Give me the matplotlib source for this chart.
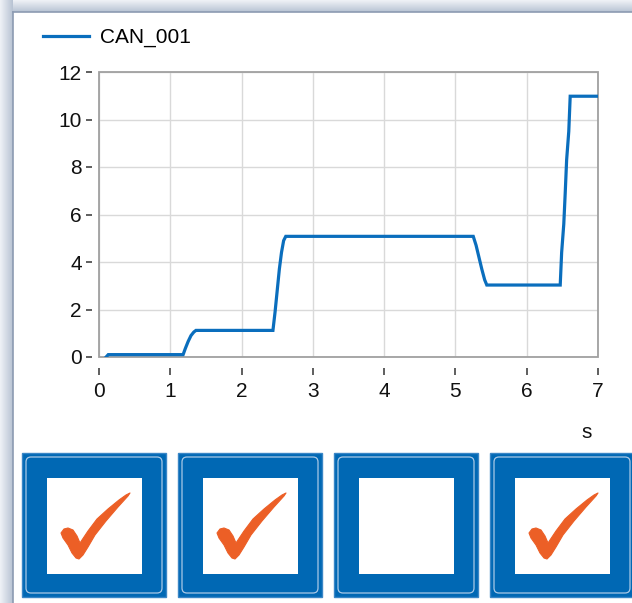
import numpy as np
import matplotlib
matplotlib.use("Agg")
import matplotlib.pyplot as plt
from matplotlib.patches import Rectangle, FancyBboxPatch, Polygon

plt.rcParams['font.family'] = ['Liberation Sans', 'DejaVu Sans']

# channel CAN_001 samples (time in s, value)
t = [0.10, 0.13, 1.18, 1.21, 1.25, 1.29, 1.33, 1.36, 2.44, 2.47, 2.50, 2.53, 2.56, 2.59, 2.62,
     5.25, 5.29, 5.33, 5.37, 5.41, 5.44, 6.47, 6.49, 6.52, 6.54, 6.56, 6.59, 6.61, 7.00]
v = [0.00, 0.10, 0.10, 0.35, 0.65, 0.90, 1.05, 1.12, 1.12, 1.90, 2.80, 3.70, 4.40, 4.90, 5.08,
     5.08, 4.70, 4.20, 3.70, 3.25, 3.03, 3.03, 4.40, 5.60, 6.90, 8.30, 9.50, 10.98, 10.98]
channel = "CAN_001"
unit = "s"
checked = [True, True, False, True]

W, H = 632, 603
BLUE = "#0a6ebd"
FS = 15

fig = plt.figure(figsize=(W / 100, H / 100), dpi=100)

# background layer in pixel units: window frame and check boxes
bg = fig.add_axes([0, 0, 1, 1], zorder=0)
bg.axis('off')

top_grad = np.linspace(0.0, 1.0, 12)[:, None] * np.ones((1, 10))
left_grad = np.ones((10, 1)) * np.linspace(0.0, 1.0, 13)[None, :]
frame_cmap = matplotlib.colors.LinearSegmentedColormap.from_list("frame", ["#eef1f6", "#b9c4d4"])
bg.imshow(top_grad, extent=[0, W, 12, 0], cmap=frame_cmap, aspect='auto', interpolation='bilinear')
bg.imshow(left_grad, extent=[0, 13, H, 0], cmap=frame_cmap, aspect='auto', interpolation='bilinear')
bg.plot([13, W], [12, 12], color="#8c9bb2", lw=1.2)
bg.plot([13, 13], [12, H], color="#8c9bb2", lw=1.2)
bg.set_xlim(0, W)
bg.set_ylim(H, 0)

# check mark outline inside a 144 px box (x right, y down)
check_shape = np.array([
    (39, 80), (42, 76), (46, 75), (51, 77), (55, 83), (58, 90), (66, 78), (75, 66),
    (86, 56), (97, 47), (104, 42), (108, 40), (106, 43), (96, 54), (84, 68), (73, 82),
    (66, 94), (61, 102), (57, 106), (54, 105), (50, 100), (46, 92), (41, 85),
])

box = 144
for i, on in enumerate(checked):
    x0, y0 = 22 + 156 * i, 453
    bg.add_patch(Rectangle((x0, y0), box, box, facecolor="#0068b4", edgecolor="#3a86c6", lw=1))
    bg.add_patch(FancyBboxPatch((x0 + 4, y0 + 4), box - 8, box - 8,
                                boxstyle="round,pad=0,rounding_size=5",
                                facecolor="none", edgecolor="#a9c8e6", lw=0.9))
    bg.add_patch(Rectangle((x0 + 25, y0 + 25), 95, 96, facecolor="white", edgecolor="none"))
    if on:
        pts = check_shape + [x0, y0]
        bg.add_patch(Polygon(pts, closed=True, facecolor="#ec5f26", edgecolor="#ec5f26",
                             lw=0.8, joinstyle='round'))

# main chart
ax = fig.add_axes([99 / W, (H - 357) / H, 499 / W, 285 / H], zorder=1)
ax.plot(t, v, color=BLUE, lw=2.3, label=channel, solid_joinstyle='miter', zorder=3)
ax.set_xlim(0, 7)
ax.set_ylim(0, 12)
ax.set_xticks(range(0, 8))
ax.set_yticks(range(0, 13, 2))
ax.grid(True, color="#d9d9d9", lw=1)
ax.set_axisbelow(True)

for side in ['top', 'right', 'left', 'bottom']:
    ax.spines[side].set_visible(False)
ax.spines['left'].set_position(('outward', 5))
ax.spines['bottom'].set_position(('outward', 8))
ax.add_patch(Rectangle((0, 0), 1, 1, transform=ax.transAxes, fill=False,
                       edgecolor="#a0a0a0", lw=1.3, zorder=2, clip_on=False))

ax.tick_params(axis='y', direction='out', length=4.3, width=1.1, pad=3, color="#333333",
               labelsize=FS, labelcolor="#111111")
ax.tick_params(axis='x', direction='out', length=5, width=1.1, pad=5, color="#333333",
               labelsize=FS, labelcolor="#111111")

fig.text(587 / W, 1 - 432 / H, unit, fontsize=FS, ha='center', va='center', color="#111111")

ax.legend(loc='upper left', bbox_to_anchor=(43 / W, 1 - 28 / H), bbox_transform=fig.transFigure,
          frameon=False, fontsize=FS, handlelength=2.2, handletextpad=0.55,
          borderpad=0, borderaxespad=0)

fig.savefig("out.png", dpi=100)
